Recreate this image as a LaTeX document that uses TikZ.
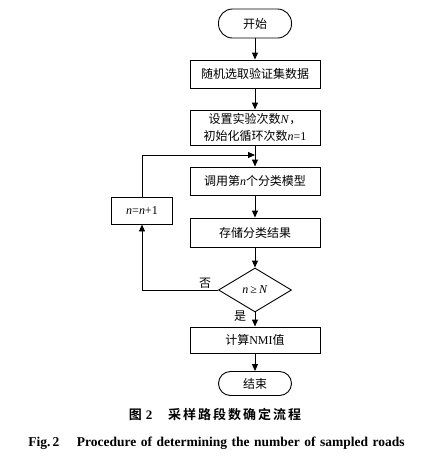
\documentclass[tikz,border=0pt]{standalone}
\usepackage{fontspec}
\setmainfont{Liberation Serif}
\newfontfamily\cjk{Noto Sans CJK SC}[BoldFont={Noto Sans CJK SC Bold}]
\usetikzlibrary{arrows.meta,shapes.geometric}
\newcommand\zh[1]{{\cjk #1}}
\begin{document}
\begin{tikzpicture}[x=1pt,y=-1pt,
  every node/.style={font=\fontsize{12}{17}\selectfont, inner sep=0pt},
  proc/.style={draw, line width=0.9pt, minimum width=130pt, align=center},
  term/.style={draw, line width=0.9pt, rounded corners=11pt, minimum width=73pt},
  dec/.style={draw, diamond, line width=0.9pt, minimum width=73pt, minimum height=44pt},
  link/.style={line width=0.9pt, -{Triangle[length=7pt,width=6pt]}},
  lbl/.style={font=\fontsize{12}{14}\selectfont}]
\fill[white] (0,0) rectangle (439,456);
\useasboundingbox (0,0) rectangle (439,456);
\node[term, minimum height=29pt, rounded corners=14pt] (start) at (255,23.5) {\zh{开始}};
\node[proc, minimum height=28pt] (b1) at (255,74) {\zh{随机选取验证集数据}};
\node[proc, minimum height=35pt] (b2) at (255,127.5) {\zh{设置实验次数}\textit{N}\zh{，}\\\zh{初始化循环次数}\textit{n}=1};
\node[proc, minimum height=28pt] (b3) at (255,181) {\zh{调用第}\textit{n}\zh{个分类模型}};
\node[draw, line width=0.9pt, minimum width=61pt, minimum height=27pt] (inc) at (142,210.5) {\textit{n}=\textit{n}+1};
\node[proc, minimum height=29pt] (b4) at (255,232.5) {\zh{存储分类结果}};
\node[dec] (d) at (255,290) {\textit{n}\,≥\,\textit{N}};
\node[proc, minimum height=26pt] (b5) at (255,340) {\zh{计算}NMI\zh{值}};
\node[term, minimum height=24pt, rounded corners=12pt] (end) at (255,383.5) {\zh{结束}};
\coordinate (j) at (255,155);
\draw[link] (start) -- (b1);
\draw[link] (b1) -- (b2);
\draw[link] (b2) -- (b3);
\draw[link] (b3) -- (b4);
\draw[link] (b4) -- (d);
\draw[link] (d) -- (b5);
\draw[link] (b5) -- (end);
\draw[link] (d.west) -| (inc.south);
\draw[link] (inc.north) |- (j);
\node[lbl] (no) at (205,283) {\zh{否}};
\node[lbl] (yes) at (240,316) {\zh{是}};
\node[font=\fontsize{13}{15}\selectfont\bfseries] (cap1) at (215,415) {\zh{\bfseries 图}\hspace{4pt}2\hspace{1.2em}\zh{\bfseries 采\hspace{2pt}样\hspace{2pt}路\hspace{2pt}段\hspace{2pt}数\hspace{2pt}确\hspace{2pt}定\hspace{2pt}流\hspace{2pt}程}};
\node[font=\fontsize{13.5}{15}\selectfont\bfseries, text width=381pt, align=center] (cap2) at (216.5,443) {Fig.\,2\hspace{1.3em}Procedure\ of\ determining\ the\ number\ of\ sampled\ roads};
\end{tikzpicture}
\end{document}
